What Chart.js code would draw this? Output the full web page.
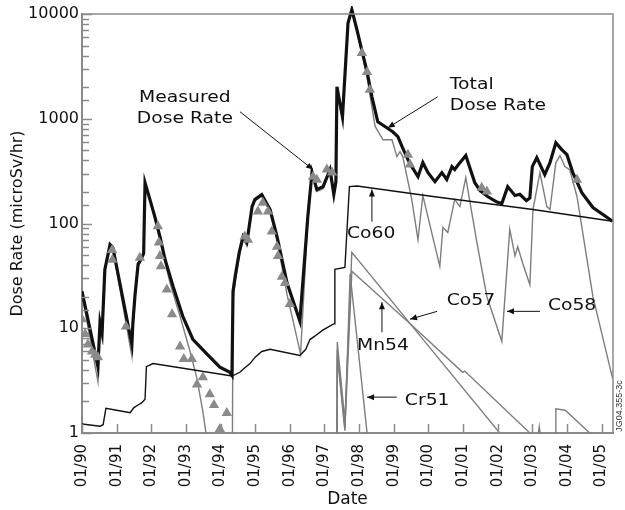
<!DOCTYPE html>
<html>
<head>
<meta charset="utf-8">
<script src="https://cdn.jsdelivr.net/npm/chart.js@4.4.0/dist/chart.umd.min.js"></script>
<style>
  body { margin: 0; background: #fff; }
  canvas { display: block; }
</style>
</head>
<body>
<canvas id="myChart" width="625" height="510"></canvas>
<script>
// dates are decimal years, dose rates in microSv/hr
var totalYears = [1990.00, 1990.46, 1990.52, 1990.58, 1990.66, 1990.81, 1990.89, 1991.44, 1991.47, 1991.53,
  1991.62, 1991.70, 1991.78, 1991.82, 1991.96, 1992.10, 1992.25, 1992.40, 1992.63, 1992.91,
  1993.20, 1993.61, 1993.98, 1994.27, 1994.33, 1994.36, 1994.42, 1994.54, 1994.65, 1994.76,
  1994.91, 1994.99, 1995.19, 1995.43, 1995.63, 1995.92, 1996.29, 1996.52, 1996.64, 1996.78,
  1996.96, 1997.16, 1997.27, 1997.33, 1997.36, 1997.52, 1997.68, 1997.79, 1997.94, 1998.08,
  1998.23, 1998.37, 1998.54, 1998.80, 1998.97, 1999.12, 1999.24, 1999.41, 1999.52, 1999.70,
  1999.84, 1999.99, 2000.19, 2000.39, 2000.53, 2000.68, 2000.76, 2000.91, 2001.08, 2001.34,
  2001.50, 2001.72, 2001.98, 2002.12, 2002.29, 2002.50, 2002.64, 2002.83, 2002.93, 2003.00,
  2003.13, 2003.36, 2003.51, 2003.68, 2003.85, 2004.00, 2004.17, 2004.43, 2004.75, 2005.32];
var totalRate = [22.5, 4.3, 11.4, 9.1, 36.5, 63, 59, 7.0, 11.4, 20.6,
  41, 45, 52, 245, 170, 117, 75, 45, 25, 13,
  7.85, 5.65, 4.26, 3.8, 3.55, 22.5, 31, 53, 75, 66,
  145, 169, 189, 136, 75, 27, 11.7, 117, 306, 211,
  225, 327, 190, 250, 2020, 1040, 8200, 11000, 7000, 4500,
  2800, 1620, 935, 820, 752, 675, 541, 407, 349, 280,
  381, 306, 251, 306, 263, 349, 328, 381, 445, 245,
  205, 180, 160, 155, 225, 185, 190, 165, 175, 349,
  425, 293, 381, 590, 507, 454, 306, 197, 142, 105];

var measuredYears = [1990.00, 1990.09, 1990.17, 1990.29, 1990.38, 1990.46, 1990.87, 1990.88, 1991.27, 1991.67,
  1992.19, 1992.22, 1992.25, 1992.28, 1992.45, 1992.60, 1992.83, 1992.94, 1993.17, 1993.32,
  1993.49, 1993.69, 1993.81, 1993.98, 1994.18, 1994.70, 1994.79, 1995.08, 1995.22, 1995.37,
  1995.48, 1995.63, 1995.66, 1995.77, 1995.86, 1996.00, 1996.67, 1996.78, 1997.07, 1997.22,
  1998.08, 1998.23, 1998.31, 1999.41, 1999.47, 2001.54, 2001.69, 2004.29];
var measuredRate = [12.2, 8.8, 7.0, 6.0, 5.6, 5.3, 56, 45, 10.4, 47,
  94, 66, 49, 39, 23.5, 13.6, 6.7, 5.1, 5.1, 2.9,
  3.4, 2.35, 1.85, 1.09, 1.55, 75, 70, 130, 158, 130,
  84, 60, 49, 31, 27, 17, 280, 262, 327, 306,
  4250, 2800, 1890, 454, 365, 220, 202, 262];

var co60Years = [1990.00, 1990.52, 1990.61, 1990.69, 1991.00, 1991.39, 1991.50, 1991.62, 1991.73, 1991.82,
  1991.86, 1992.05, 1994.33, 1994.56, 1994.70, 1994.85, 1995.00, 1995.19, 1995.43, 1996.29,
  1996.46, 1996.58, 1996.72, 1996.95, 1997.24, 1997.28, 1997.30, 1997.59, 1997.72, 1997.94,
  2000.13, 2003.02, 2005.32];
var co60Rate = [1.22, 1.16, 1.2, 1.72, 1.65, 1.56, 1.75, 1.85, 1.95, 2.1,
  4.3, 4.6, 3.5, 3.8, 4.2, 4.6, 5.3, 6.0, 6.3, 5.5,
  6.3, 7.8, 8.4, 9.6, 10.9, 11, 36.5, 38, 225, 228,
  181, 136, 105];

var co58Years = [1990.00, 1990.46, 1990.52, 1990.58, 1990.66, 1990.81, 1990.89, 1991.44, 1991.47, 1991.53,
  1991.62, 1991.78, 1991.82, 1991.96, 1992.10, 1992.25, 1992.54, 1992.83, 1993.12, 1993.32,
  1993.49, 1993.75, 1994.33, 1994.36, 1994.42, 1994.54, 1994.65, 1994.76, 1994.91, 1994.99,
  1995.19, 1995.43, 1995.63, 1995.92, 1996.31, 1996.52, 1996.64, 1996.78, 1996.96, 1997.16,
  1997.27, 1997.33, 1997.36, 1997.52, 1997.68, 1997.79, 1997.94, 1998.08, 1998.23, 1998.46,
  1998.69, 1998.95, 1999.09, 1999.18, 1999.26, 1999.52, 1999.70, 1999.84, 2000.33, 2000.42,
  2000.56, 2000.76, 2000.91, 2001.08, 2001.40, 2001.69, 2002.12, 2002.35, 2002.50, 2002.58,
  2002.73, 2002.93, 2003.02, 2003.22, 2003.42, 2003.51, 2003.68, 2003.80, 2003.94, 2004.08,
  2004.29, 2004.75, 2005.32];
var co58Rate = [21, 3.1, 10.2, 7.9, 35, 61, 57, 5.4, 9.8, 19,
  39, 50, 243, 165, 112, 70, 27, 13, 6.0, 3.3,
  1.6, 0.4, 0.1, 19, 27, 49, 71, 61, 140, 164,
  183, 130, 69, 21, 5.7, 109, 298, 202, 215, 316,
  179, 238, 1980, 1000, 8100, 10800, 6700, 4200, 2500, 850,
  630, 630, 435, 485, 435, 170, 70, 185, 39, 92,
  82, 170, 145, 274, 66, 20, 7.5, 88, 49, 60,
  41, 26, 136, 306, 145, 136, 381, 445, 349, 327,
  181, 20, 3.3];

var co57Years = [1997.35, 1997.37, 1997.59, 1997.79, 1999.49, 2002.06, 2002.10, 2003.05, 2003.20, 2003.35];
var co57Rate = [0.1, 7.4, 1.3, 53, 10.9, 1.0, 0.5, 0.5, 1.15, 0.5];

var mn54Years = [1997.35, 1997.37, 1997.59, 1997.79, 1999.49, 2000.99, 2001.05, 2002.93, 2002.97, 2003.66,
  2003.68, 2003.95, 2004.66, 2004.75];
var mn54Rate = [0.1, 6.2, 1.1, 35, 10.9, 3.8, 3.9, 1.0, 0.5, 0.5,
  1.7, 1.65, 1.0, 0.5];

var cr51Years = [1997.35, 1997.37, 1997.59, 1997.74, 1998.23, 1998.27];
var cr51Rate = [0.1, 5.5, 1.05, 33, 1.0, 0.5];

var yearTicks = [1990, 1991, 1992, 1993, 1994, 1995, 1996, 1997, 1998, 1999, 2000, 2001, 2002, 2003, 2004, 2005];
var decadeTicks = [1, 10, 100, 1000, 10000];

function pts(xs, ys) {
  var out = [];
  for (var i = 0; i < xs.length; i++) {
    out.push({x: xs[i], y: ys[i]});
  }
  return out;
}

var gray = '#7d7d7d';
var frameColor = '#8a8a8a';

function thinLine(label, xs, ys, color, order) {
  return {
    label: label,
    data: pts(xs, ys),
    borderColor: color,
    borderWidth: 1.4,
    pointRadius: 0,
    tension: 0,
    fill: false,
    order: order
  };
}

// labels with arrows, placed in data units
var notes = [
  {lines: ['Measured', 'Dose Rate'], at: [1992.97, 1585], align: 'center', from: [1994.56, 1166], to: [1996.67, 327]},
  {lines: ['Total', 'Dose Rate'], at: [2000.62, 2108], align: 'left', from: [2000.27, 1620], to: [1998.83, 820]},
  {lines: ['Co60'], at: [1997.65, 78.6], align: 'left', from: [1998.37, 104], to: [1998.37, 211]},
  {lines: ['Co57'], at: [2000.53, 18.1], align: 'left', from: [2000.25, 14.5], to: [1999.47, 12.2]},
  {lines: ['Co58'], at: [2003.45, 16.2], align: 'left', from: [2003.22, 14.5], to: [2002.27, 14.5]},
  {lines: ['Mn54'], at: [1997.94, 6.74], align: 'left', from: [1998.66, 9.16], to: [1998.66, 17.7]},
  {lines: ['Cr51'], at: [1999.32, 2.02], align: 'left', from: [1999.09, 2.2], to: [1998.23, 2.2]}
];

function arrow(ctx, x1, y1, x2, y2) {
  var ang = Math.atan2(y2 - y1, x2 - x1);
  ctx.beginPath();
  ctx.moveTo(x1, y1);
  ctx.lineTo(x2, y2);
  ctx.stroke();
  ctx.beginPath();
  ctx.moveTo(x2, y2);
  ctx.lineTo(x2 - 7 * Math.cos(ang) + 3 * Math.sin(ang), y2 - 7 * Math.sin(ang) - 3 * Math.cos(ang));
  ctx.lineTo(x2 - 7 * Math.cos(ang) - 3 * Math.sin(ang), y2 - 7 * Math.sin(ang) + 3 * Math.cos(ang));
  ctx.closePath();
  ctx.fill();
}

var extras = {
  id: 'extras',
  afterDraw: function(chart) {
    var ctx = chart.ctx, a = chart.chartArea;
    var xs = chart.scales.x, ys = chart.scales.y;
    ctx.save();

    // top and right frame, inward ticks
    ctx.strokeStyle = frameColor;
    ctx.lineWidth = 1.5;
    ctx.beginPath();
    ctx.moveTo(a.left, a.top);
    ctx.lineTo(a.right, a.top);
    ctx.lineTo(a.right, a.bottom);
    xs.ticks.forEach(function(t) {
      var px = Math.round(xs.getPixelForValue(t.value)) + 0.5;
      ctx.moveTo(px, a.bottom);
      ctx.lineTo(px, a.bottom - 9);
    });
    ys.ticks.forEach(function(t) {
      var py = Math.round(ys.getPixelForValue(t.value)) + 0.5;
      var l = Math.log10(t.value);
      var major = Math.abs(l - Math.round(l)) < 1e-6;
      ctx.moveTo(a.left, py);
      ctx.lineTo(a.left + (major ? 10 : 7), py);
    });
    ctx.stroke();

    // annotations
    ctx.fillStyle = '#111';
    ctx.strokeStyle = '#111';
    ctx.lineWidth = 1;
    ctx.font = '15px "DejaVu Sans"';
    ctx.textBaseline = 'middle';
    notes.forEach(function(n) {
      var px = xs.getPixelForValue(n.at[0]);
      var py = ys.getPixelForValue(n.at[1]);
      n.lines.forEach(function(s, i) {
        ctx.save();
        ctx.translate(px, py + i * 21);
        ctx.scale(1.25, 1);
        ctx.textAlign = n.align;
        ctx.fillText(s, 0, 0);
        ctx.restore();
      });
      arrow(ctx, xs.getPixelForValue(n.from[0]), ys.getPixelForValue(n.from[1]),
        xs.getPixelForValue(n.to[0]), ys.getPixelForValue(n.to[1]));
    });

    // figure id
    ctx.save();
    ctx.translate(a.right + 7, a.bottom - 27);
    ctx.rotate(-Math.PI / 2);
    ctx.font = '9px "Liberation Sans Narrow", "Liberation Sans"';
    ctx.textAlign = 'center';
    ctx.fillStyle = '#333';
    ctx.fillText('JG04.355-3c', 0, 0);
    ctx.restore();

    ctx.restore();
  }
};

Chart.defaults.font.family = '"DejaVu Sans", sans-serif';
Chart.defaults.color = '#111';

var ctx = document.getElementById('myChart').getContext('2d');
var chart = new Chart(ctx, {
  type: 'line',
  data: {
    datasets: [
      {
        label: 'Measured Dose Rate',
        data: pts(measuredYears, measuredRate),
        showLine: false,
        pointStyle: 'triangle',
        pointRadius: 6,
        pointBackgroundColor: '#8a8a8a',
        pointBorderColor: '#8a8a8a',
        pointBorderWidth: 0,
        order: 0
      },
      {
        label: 'Total Dose Rate',
        data: pts(totalYears, totalRate),
        borderColor: '#111',
        borderWidth: 3.2,
        pointRadius: 0,
        tension: 0,
        fill: false,
        clip: {left: 0, top: 8, right: 2, bottom: 0},
        order: 1
      },
      thinLine('Co60', co60Years, co60Rate, '#111', 2),
      thinLine('Co58', co58Years, co58Rate, gray, 3),
      thinLine('Co57', co57Years, co57Rate, gray, 4),
      thinLine('Mn54', mn54Years, mn54Rate, gray, 5),
      thinLine('Cr51', cr51Years, cr51Rate, gray, 6)
    ]
  },
  options: {
    responsive: false,
    animation: false,
    layout: {padding: {top: 14, right: 12, left: 4, bottom: 0}},
    plugins: {
      legend: {display: false},
      tooltip: {enabled: false}
    },
    scales: {
      x: {
        type: 'linear',
        min: 1990,
        max: 2005.33,
        grid: {display: true, drawOnChartArea: false, drawTicks: false},
        border: {display: true, color: frameColor, width: 2},
        afterBuildTicks: function(scale) {
          scale.ticks = yearTicks.map(function(v) { return {value: v}; });
        },
        ticks: {
          autoSkip: false,
          minRotation: 90,
          maxRotation: 90,
          padding: 11,
          font: {size: 15},
          color: '#111',
          callback: function(v) { return '01/' + String(v).slice(2); }
        },
        title: {display: true, text: 'Date', font: {size: 17}, color: '#111', padding: {top: 0, bottom: 0}},
        afterFit: function(scale) {
          scale.height = 77;
          scale.paddingLeft = 0;
          scale.paddingRight = 0;
        }
      },
      y: {
        type: 'logarithmic',
        min: 1,
        max: 10000,
        grid: {display: true, drawOnChartArea: false, drawTicks: false},
        border: {display: true, color: frameColor, width: 2},
        ticks: {
          autoSkip: false,
          padding: 3,
          font: {size: 16},
          color: '#111',
          callback: function(v) {
            return decadeTicks.indexOf(v) >= 0 ? String(v) : '';
          }
        },
        title: {display: true, text: 'Dose Rate (microSv/hr)', font: {size: 16}, color: '#111', padding: {top: 4, bottom: 0}},
        afterFit: function(scale) { scale.width = 78; }
      }
    }
  },
  plugins: [extras]
});
</script>
</body>
</html>
